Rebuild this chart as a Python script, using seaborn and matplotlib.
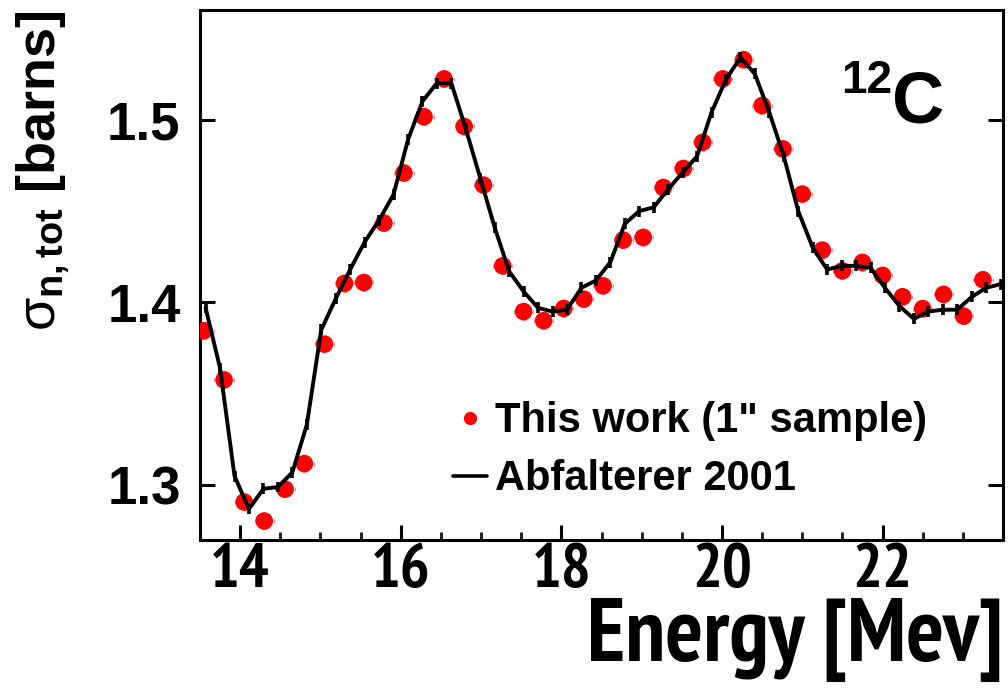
import matplotlib
matplotlib.use("Agg")
import matplotlib.pyplot as plt
from matplotlib import font_manager
from matplotlib.lines import Line2D
from matplotlib.ticker import MultipleLocator
import seaborn as sns
import pandas as pd

# ---- data ----
this_work_energy = [13.55, 13.80, 14.05, 14.30, 14.56, 14.80, 15.05, 15.30, 15.54, 15.79,
                    16.04, 16.29, 16.54, 16.79, 17.03, 17.27, 17.53, 17.78, 18.03, 18.28,
                    18.52, 18.77, 19.02, 19.27, 19.52, 19.76, 20.01, 20.27, 20.50, 20.76,
                    21.00, 21.25, 21.50, 21.75, 22.00, 22.25, 22.50, 22.76, 23.01, 23.25]
this_work_sigma = [1.3845, 1.3576, 1.2908, 1.2804, 1.2978, 1.3118, 1.3772, 1.4104, 1.4109, 1.4434,
                   1.4708, 1.5016, 1.5223, 1.4963, 1.4642, 1.4200, 1.3950, 1.3900, 1.3967, 1.4018,
                   1.4091, 1.4341, 1.4356, 1.4629, 1.4733, 1.4876, 1.5223, 1.5328, 1.5077, 1.4840,
                   1.4593, 1.4286, 1.4173, 1.4219, 1.4148, 1.4031, 1.3966, 1.4044, 1.3925, 1.4124]
this_work_xerr = [0.12] * len(this_work_energy)
this_work_yerr = [0.0045] * len(this_work_energy)

abf_energy = [13.57, 13.75, 13.93, 14.11, 14.29, 14.47, 14.65, 14.83, 15.01, 15.19,
              15.37, 15.55, 15.73, 15.91, 16.09, 16.27, 16.45, 16.63, 16.81, 16.99,
              17.17, 17.35, 17.53, 17.71, 17.89, 18.07, 18.25, 18.43, 18.61, 18.79,
              18.97, 19.15, 19.33, 19.51, 19.69, 19.87, 20.05, 20.23, 20.41, 20.59,
              20.77, 20.95, 21.13, 21.31, 21.49, 21.67, 21.85, 22.03, 22.21, 22.39,
              22.57, 22.75, 22.93, 23.11, 23.29, 23.47]
abf_sigma = [1.397, 1.364, 1.305, 1.287, 1.298, 1.299, 1.307, 1.333, 1.385, 1.402,
             1.418, 1.433, 1.445, 1.459, 1.489, 1.510, 1.520, 1.520, 1.495, 1.468,
             1.441, 1.417, 1.406, 1.397, 1.395, 1.396, 1.408, 1.412, 1.422, 1.443,
             1.450, 1.452, 1.462, 1.471, 1.480, 1.504, 1.522, 1.534, 1.525, 1.504,
             1.480, 1.450, 1.430, 1.418, 1.420, 1.420, 1.419, 1.408, 1.398, 1.391,
             1.395, 1.396, 1.396, 1.403, 1.408, 1.410]
abf_err = [0.003] * len(abf_energy)

x_ticks = [14, 16, 18, 20, 22]
y_ticks = [1.3, 1.4, 1.5]
legend_labels = ['This work (1" sample)', "Abfalterer 2001"]

# ---- style ----
sns.set_theme(style="ticks")


def has_font(name):
    try:
        font_manager.findfont(font_manager.FontProperties(family=name), fallback_to_default=False)
        return True
    except Exception:
        return False


def find_condensed_bold():
    cands = []
    for f in font_manager.fontManager.ttflist:
        nm = f.name.lower()
        fn = f.fname.lower()
        narrow = ("narrow" in nm or "condensed" in nm or "condensed" in fn or "narrow" in fn
                  or str(f.stretch) in ("condensed", "semi-condensed", "extra-condensed",
                                        "ultra-condensed"))
        if not narrow:
            continue
        w = f.weight if isinstance(f.weight, int) else {"bold": 700, "normal": 400}.get(str(f.weight), 400)
        italic = f.style != "normal" or "italic" in fn or "oblique" in fn
        if "narrow" in nm or "narrow" in fn:
            fam = 0
        elif "roboto" in nm or "roboto" in fn:
            fam = 1
        elif "dejavu" in nm:
            fam = 3
        else:
            fam = 2
        score = (1 if italic else 0, fam, 0 if w >= 600 else 1)
        cands.append((score, f.fname))
    if cands:
        cands.sort()
        return cands[0][1]
    return None


MAIN = "Liberation Sans" if has_font("Liberation Sans") else "DejaVu Sans"
cond_file = find_condensed_bold()

plt.rcParams["font.family"] = [MAIN, "DejaVu Sans"]
plt.rcParams["text.color"] = "black"
plt.rcParams["axes.labelcolor"] = "black"
plt.rcParams["mathtext.fontset"] = "custom"
plt.rcParams["mathtext.rm"] = MAIN
plt.rcParams["mathtext.it"] = MAIN
plt.rcParams["mathtext.bf"] = MAIN + ":bold"


def narrow_props(size):
    if cond_file:
        return font_manager.FontProperties(fname=cond_file, size=size, weight="bold")
    return font_manager.FontProperties(family=MAIN, size=size * 0.82, weight="bold")


fig = plt.figure(figsize=(10.08, 6.89), dpi=100)
ax = fig.add_axes([200 / 1008, 1 - 540 / 689, 803 / 1008, 530 / 689])

df_work = pd.DataFrame({"E": this_work_energy, "sigma": this_work_sigma})
df_abf = pd.DataFrame({"E": abf_energy, "sigma": abf_sigma})

# this work: faint error bars + red dots
ax.errorbar(this_work_energy, this_work_sigma, xerr=this_work_xerr, yerr=this_work_yerr,
            fmt="none", ecolor="#ff9a9a", elinewidth=0.8, capsize=1.5, capthick=0.8, zorder=2)
sns.scatterplot(data=df_work, x="E", y="sigma", ax=ax, color="#ff0000", s=160,
                edgecolor="none", linewidth=0, zorder=3, legend=False)

# Abfalterer line with error ticks
sns.lineplot(data=df_abf, x="E", y="sigma", ax=ax, color="black", linewidth=2.8,
             sort=False, estimator=None, zorder=4, legend=False)
ax.errorbar(abf_energy, abf_sigma, yerr=abf_err, fmt="none", ecolor="black",
            elinewidth=2.6, capsize=0, zorder=4)

ax.set_xlim(13.5, 23.5)
ax.set_ylim(1.27, 1.56)
ax.set_xticks(x_ticks)
ax.set_yticks(y_ticks)
ax.set_yticklabels([f"{v:.1f}" for v in y_ticks])
ax.xaxis.set_minor_locator(MultipleLocator(0.5))

for s in ax.spines.values():
    s.set_visible(True)
    s.set_linewidth(2.2)
    s.set_color("black")

ax.tick_params(axis="x", which="major", direction="in", length=10.8, width=2.2,
               top=False, bottom=True, pad=2.5, colors="black")
ax.tick_params(axis="x", which="minor", direction="in", length=5.5, width=2.2,
               top=False, bottom=True)
ax.tick_params(axis="y", which="major", direction="in", length=10.8, width=2.2,
               left=True, right=True, pad=14, labelsize=38, colors="black")
ax.tick_params(axis="y", which="minor", left=False, right=False)

xt_fp = narrow_props(45)
for lab in ax.get_xticklabels():
    lab.set_fontproperties(xt_fp)
for lab in ax.get_yticklabels():
    lab.set_fontweight("bold")

xl_fp = narrow_props(64)
ax.set_xlabel("Energy [Mev]", loc="right", fontproperties=xl_fp, color="black")
ax.xaxis.set_label_coords(1.0, -0.11)
ax.set_ylabel(r"$\sigma_{\mathbf{n,tot}}$ [barns]", loc="top", fontsize=39,
              fontweight="bold", color="black")
ax.yaxis.set_label_coords(-0.16, 1.0)

# 12C annotation
ax.text(22.12, 1.4984, "C", fontsize=52, fontweight="bold", ha="left", va="baseline")
ax.text(22.12, 1.5148, "12", fontsize=33, fontweight="bold", ha="right", va="baseline")

handles = [Line2D([], [], linestyle="none", marker="o", markersize=9.5,
                  markerfacecolor="#ff0000", markeredgecolor="none"),
           Line2D([], [], color="black", linewidth=2.6)]
leg = ax.legend(handles, legend_labels, loc="upper left", bbox_to_anchor=(0.315, 0.262),
                frameon=False, fontsize=30, handlelength=0.82, handletextpad=0.2,
                labelspacing=0.44, borderpad=0, borderaxespad=0)
for t in leg.get_texts():
    t.set_fontweight("bold")
    t.set_color("black")

fig.savefig("out.png", dpi=100)
